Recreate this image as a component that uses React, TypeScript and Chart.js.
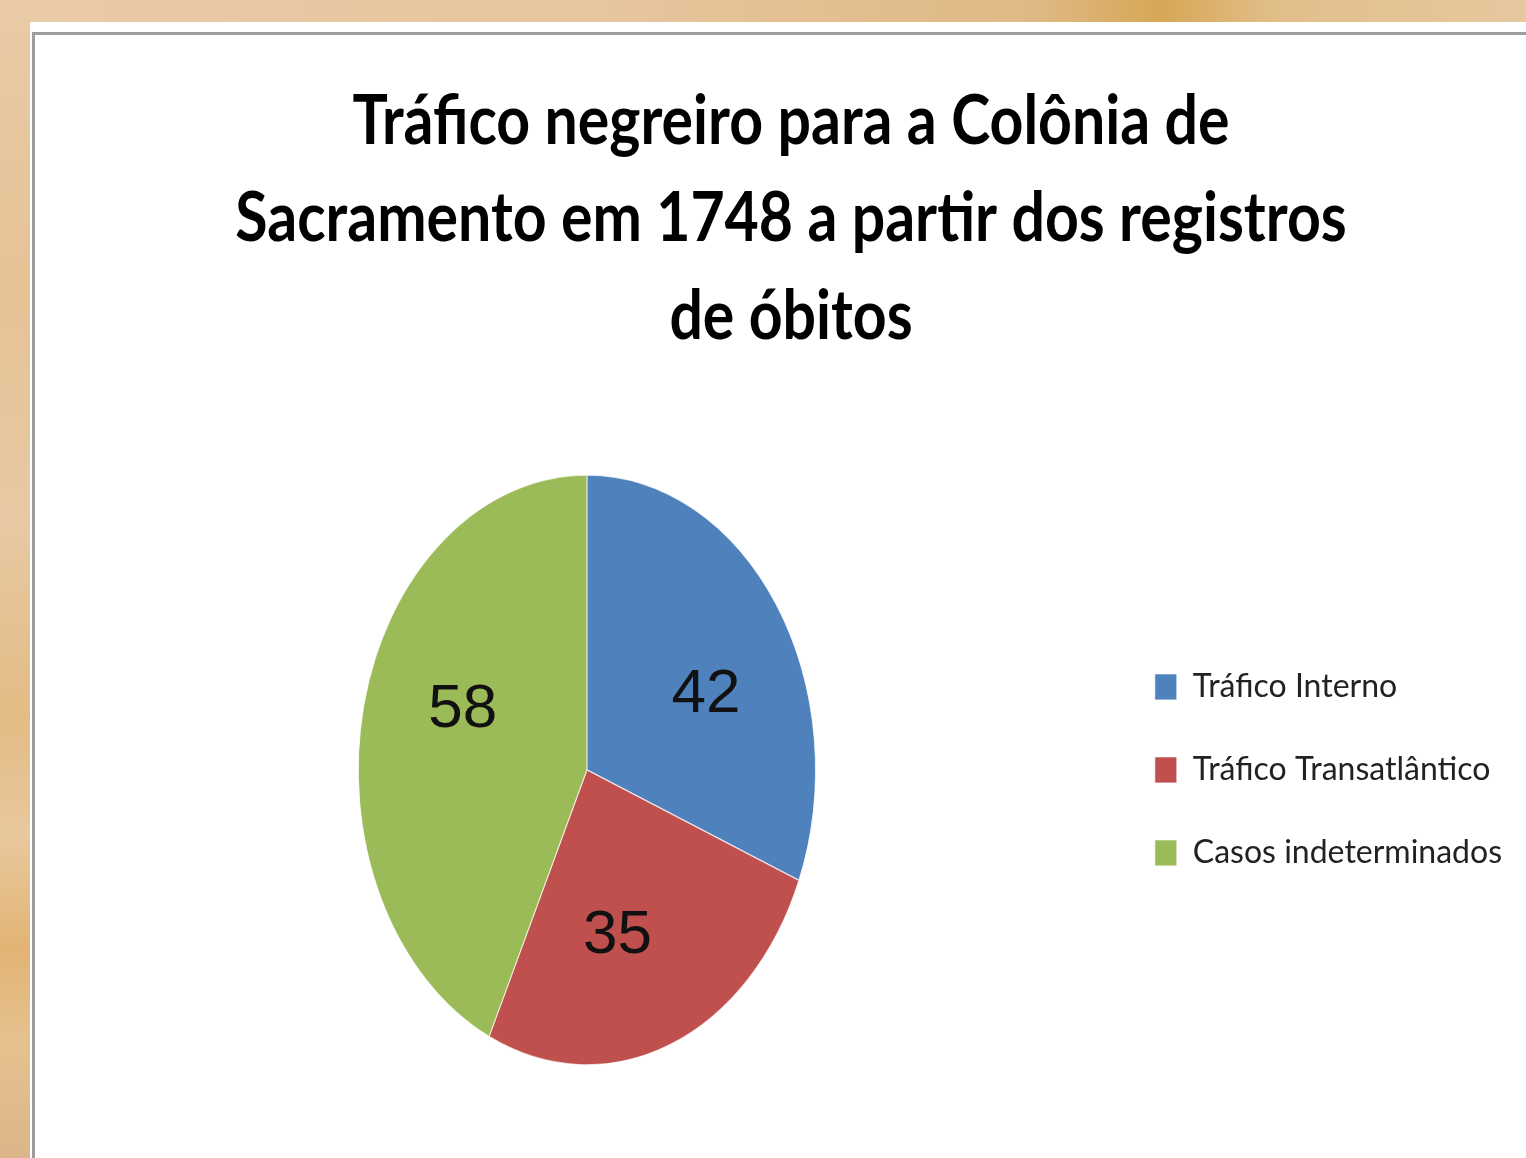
import React, { useEffect, useRef } from "react";
import { Chart, registerables } from "chart.js";

Chart.register(...registerables);

const categories = ["Tráfico Interno", "Tráfico Transatlântico", "Casos indeterminados"];
const values = [42, 35, 58];
const sliceColors = ["#4F81BD", "#C0504D", "#9BBB59"];
const titleLines = [
  "Tráfico negreiro para a Colônia de",
  "Sacramento em 1748 a partir dos registros",
  "de óbitos",
];

const PIE_STRETCH = 1.29; // the pie in the reference is an upright ellipse
const TITLE_STRETCH = 1.18; // the title lettering is vertically elongated
const W = 1496;
const H = 1136;

const stretchPlugin = {
  id: "stretch",
  beforeDraw(chart: any) {
    const tb = chart.titleBlock;
    if (tb && !tb.__stretched) {
      tb.__stretched = true;
      const orig = tb.draw.bind(tb);
      tb.draw = (area: any) => {
        const ctx = chart.ctx;
        ctx.save();
        ctx.translate(0, tb.top);
        ctx.scale(1, TITLE_STRETCH);
        ctx.translate(0, -tb.top);
        orig(area);
        ctx.restore();
      };
    }
  },
  beforeDatasetsDraw(chart: any) {
    const meta = chart.getDatasetMeta(0);
    const arc = meta.data[0];
    if (!arc) return;
    const ctx = chart.ctx;
    ctx.save();
    ctx.translate(arc.x, arc.y);
    ctx.scale(1, PIE_STRETCH);
    ctx.translate(-arc.x, -arc.y);
  },
  afterDatasetsDraw(chart: any) {
    const ctx = chart.ctx;
    const meta = chart.getDatasetMeta(0);
    if (!meta.data[0]) return;
    ctx.restore();
    // value labels
    ctx.save();
    ctx.font = "62px 'Liberation Sans', Arial, sans-serif";
    ctx.fillStyle = "#111111";
    ctx.textAlign = "center";
    ctx.textBaseline = "middle";
    const angleShift = (8 * Math.PI) / 180;
    meta.data.forEach((arc: any, i: number) => {
      const p = arc.getProps(["x", "y", "startAngle", "endAngle", "outerRadius"], true);
      const a = (p.startAngle + p.endAngle) / 2 + angleShift;
      const r = p.outerRadius * 0.58;
      ctx.fillText(
        String(chart.data.datasets[0].data[i]),
        p.x + Math.cos(a) * r,
        p.y + Math.sin(a) * r * PIE_STRETCH
      );
    });
    ctx.restore();
  },
};

export default function App() {
  const ref = useRef<HTMLCanvasElement | null>(null);

  useEffect(() => {
    if (!ref.current) return;
    const chart = new Chart(ref.current, {
      type: "pie",
      data: {
        labels: categories,
        datasets: [
          {
            data: values,
            backgroundColor: sliceColors,
            borderColor: "rgba(255,255,255,0.7)",
            borderWidth: 1,
            hoverOffset: 0,
            clip: false,
          },
        ],
      },
      options: {
        responsive: false,
        maintainAspectRatio: false,
        animation: false,
        layout: { padding: { left: 40, right: 14, top: 0, bottom: 159 } },
        plugins: {
          title: {
            display: true,
            text: titleLines,
            color: "#000000",
            font: { family: "Lato", weight: "bold", size: 59, lineHeight: 1.4 },
            padding: { top: 43, bottom: 228 },
          },
          legend: {
            position: "right",
            fullSize: false,
            labels: {
              color: "#222222",
              font: { family: "Lato", size: 32 },
              boxWidth: 22,
              boxHeight: 26,
              padding: 51,
            },
          },
          tooltip: { enabled: false },
        },
      },
      plugins: [stretchPlugin],
    } as any);
    return () => chart.destroy();
  }, []);

  return (
    <div
      style={{
        position: "fixed",
        inset: 0,
        overflow: "hidden",
        background:
          "linear-gradient(90deg, #e9cba6 0%, #e7c59e 40%, #dfb985 68%, #d7a757 76%, #e2bf8c 84%, #e6c89f 100%)",
      }}
    >
      <div
        style={{
          position: "absolute",
          left: 0,
          top: 0,
          width: 30,
          bottom: 0,
          background:
            "linear-gradient(180deg, #e9cba6 0%, #e6c296 25%, #e8c9a3 45%, #e3bb85 62%, #e9c89e 72%, #e2b474 82%, #e6c18f 90%, #dcb58a 100%)",
        }}
      />
      <div
        style={{
          position: "absolute",
          left: 30,
          top: 22,
          right: 0,
          bottom: 0,
          background: "#ffffff",
          overflow: "hidden",
        }}
      >
        <div
          style={{
            position: "absolute",
            left: 2,
            top: 10,
            right: -10,
            bottom: -10,
            borderLeft: "3px solid #9e9e9e",
            borderTop: "3px solid #9e9e9e",
          }}
        />
        <canvas
          ref={ref}
          width={W}
          height={H}
          style={{ position: "absolute", left: 0, top: 0, width: W, height: H, display: "block" }}
        />
      </div>
    </div>
  );
}
